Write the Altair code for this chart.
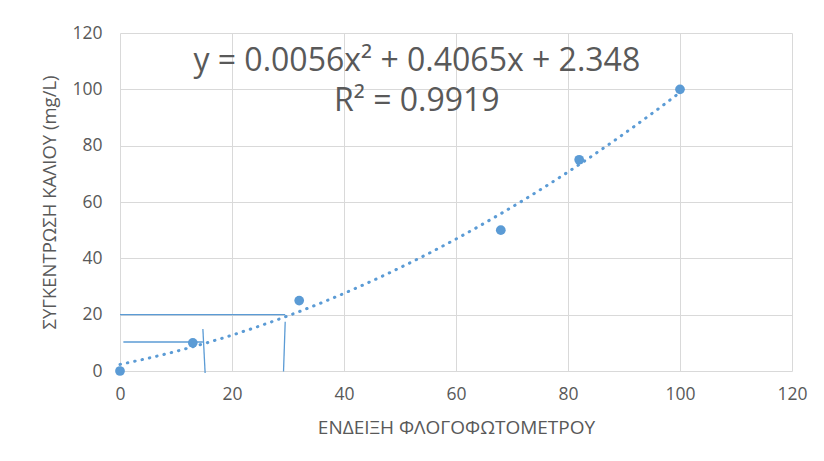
import altair as alt
import pandas as pd

# Measured points
reading = [0, 13, 32, 68, 82, 100]
concentration = [0, 10, 25, 50, 75, 100]

# Hand-drawn guide lines (data coordinates)
guide_x = [0, 29.5, 0.6, 14.8]
guide_y = [20, 17.5, 10.3, 14.9]
guide_x2 = [29.5, 29.2, 14.8, 15.2]
guide_y2 = [20, -0.2, 10.3, -0.7]

eq_text = ["y = 0.0056x² + 0.4065x + 2.348", "R² = 0.9919"]
eq_x = [53, 53]
eq_y = [110, 95.8]

BLUE = "#5B9BD5"
GREY = "#595959"
FONT = "Open Sans"

pts = pd.DataFrame({"x": reading, "y": concentration})
guides = pd.DataFrame({"x": guide_x, "y": guide_y, "x2": guide_x2, "y2": guide_y2})
eq = pd.DataFrame({"t": eq_text, "x": eq_x, "y": eq_y})

xs = alt.Scale(domain=[0, 120], nice=False, zero=False)
ys = alt.Scale(domain=[0, 120], nice=False, zero=False)

xaxis = alt.Axis(values=[0, 20, 40, 60, 80, 100, 120], title="ΕΝΔΕΙΞΗ ΦΛΟΓΟΦΩΤΟΜΕΤΡΟΥ",
                 domain=False, ticks=False, labelPadding=14, titlePadding=16, labelFlush=False,
                 labelFontSize=17.5, titleFontSize=19, labelColor=GREY, titleColor=GREY,
                 titleFontWeight="normal", gridColor="#D9D9D9", labelFont=FONT, titleFont=FONT)
yaxis = alt.Axis(values=[0, 20, 40, 60, 80, 100, 120], title="ΣΥΓΚΕΝΤΡΩΣΗ ΚΑΛΙΟΥ (mg/L)",
                 domain=False, ticks=False, labelPadding=18, titlePadding=12, labelFlush=False,
                 labelFontSize=17.5, titleFontSize=18.5, labelColor=GREY, titleColor=GREY,
                 titleFontWeight="normal", gridColor="#D9D9D9", labelFont=FONT, titleFont=FONT)

base = alt.Chart(pts)

points = base.mark_circle(size=95, color=BLUE, opacity=1).encode(
    x=alt.X("x:Q", scale=xs, axis=xaxis),
    y=alt.Y("y:Q", scale=ys, axis=yaxis),
)

trend = base.transform_regression("x", "y", method="poly", order=2, extent=[0, 100]).mark_line(
    color=BLUE, strokeWidth=3, strokeDash=[0.5, 7], strokeCap="round"
).encode(x=alt.X("x:Q", scale=xs), y=alt.Y("y:Q", scale=ys))

guide = alt.Chart(guides).mark_rule(color=BLUE, strokeWidth=1.3).encode(
    x=alt.X("x:Q", scale=xs), y=alt.Y("y:Q", scale=ys), x2="x2:Q", y2="y2:Q"
)

text = alt.Chart(eq).mark_text(fontSize=32, color=GREY, font=FONT, align="center", baseline="middle").encode(
    x=alt.X("x:Q", scale=xs), y=alt.Y("y:Q", scale=ys), text="t:N"
)

chart = alt.layer(guide, trend, points, text).properties(
    width=672, height=338,
    autosize=alt.AutoSizeParams(type="none"),
    padding={"left": 112, "top": 25, "right": 24, "bottom": 80},
    background="white",
).configure_view(stroke=None)

chart.save("out.html", embed_options={"renderer": "svg", "actions": False})
